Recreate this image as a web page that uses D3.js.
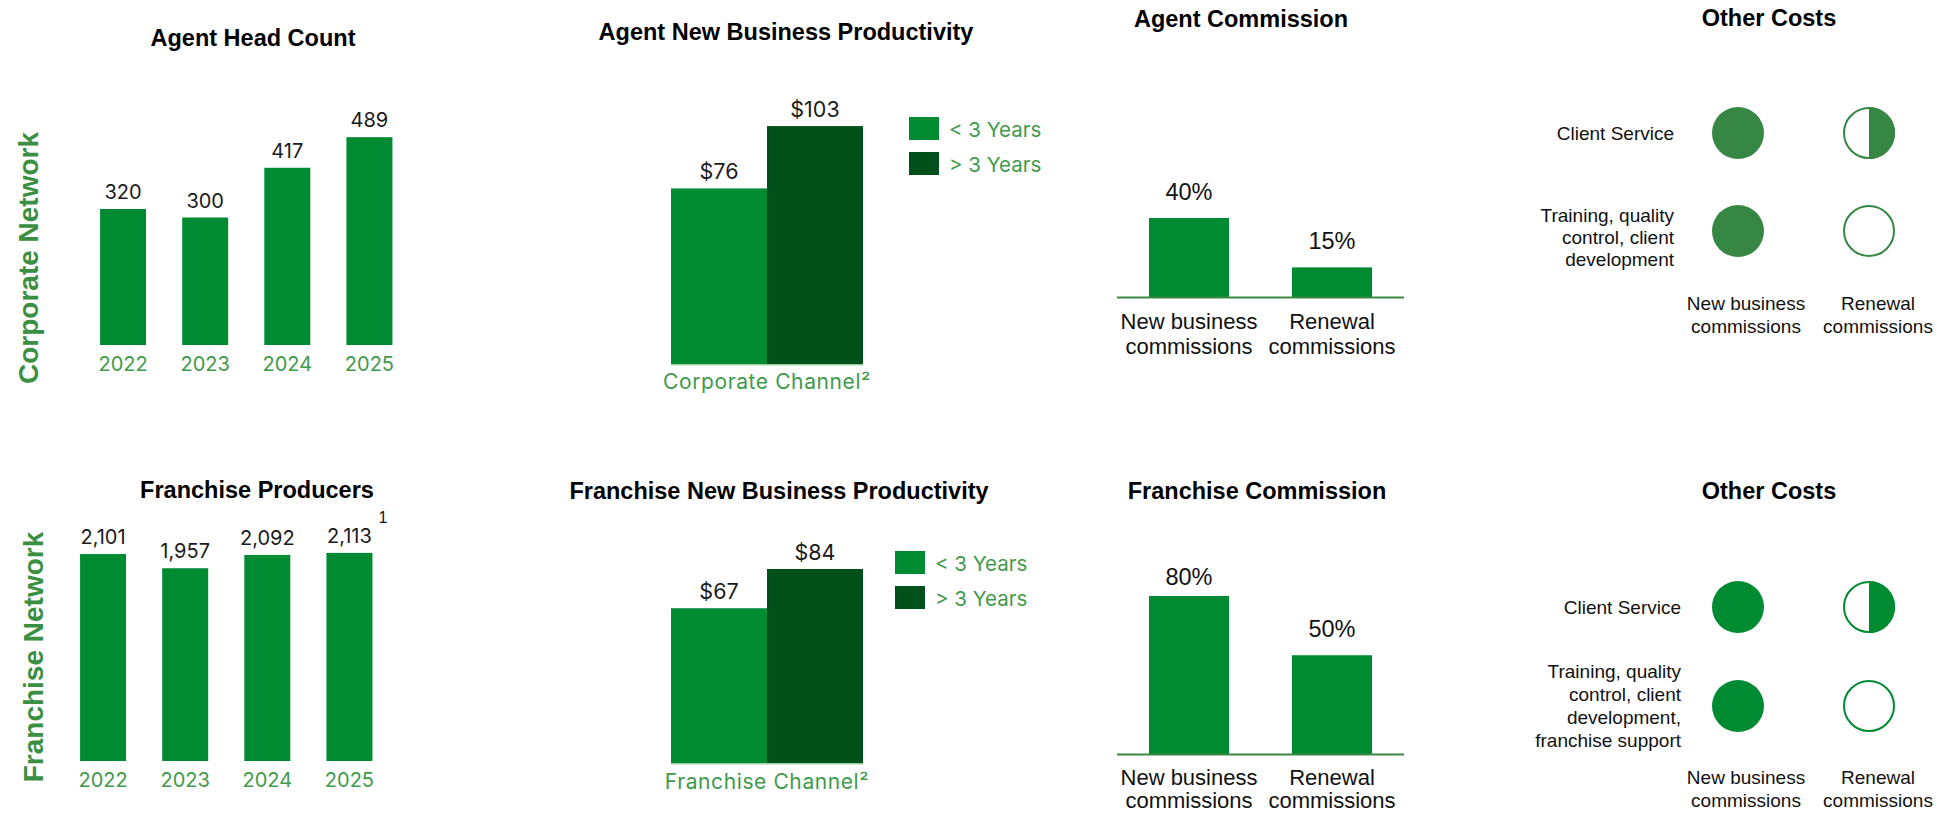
<!DOCTYPE html>
<html>
<head>
<meta charset="utf-8">
<script src="https://cdn.jsdelivr.net/npm/d3@7"></script>
<style>
  html, body { margin: 0; padding: 0; background: #ffffff; }
  svg { display: block; }
</style>
</head>
<body>
<svg id="chart" width="1944" height="814"></svg>
<script>
// ---- data ----
const years = ["2022", "2023", "2024", "2025"];
const agentHeadCount = [320, 300, 417, 489];
const franchiseProducers = [2101, 1957, 2092, 2113];

const tenureGroups = ["< 3 Years", "> 3 Years"];
const corporateProductivity = [76, 103];
const franchiseProductivity = [67, 84];

const commissionTypes = [["New business", "commissions"], ["Renewal", "commissions"]];
const agentCommission = [40, 15];
const franchiseCommission = [80, 50];

const corporateCostItems = [["Client Service"], ["Training, quality", "control, client", "development"]];
const franchiseCostItems = [["Client Service"], ["Training, quality", "control, client", "development,", "franchise support"]];
// share of each cost borne by [new business, renewal] commissions
const corporateCostShares = [[1, 0.5], [1, 0]];
const franchiseCostShares = [[1, 0.5], [1, 0]];

// ---- styling ----
const GREEN = "#008a32";
const DARK_GREEN = "#00501c";
const MUTED_GREEN = "#378744";
const LABEL_GREEN = "#3f9a4c";
const SIDE_GREEN = "#3a8f43";
const SANS = "'Liberation Sans', Arial, sans-serif";
const GEO = "Inter, 'Open Sans', sans-serif";

const svg = d3.select("#chart");

function title(x, y, text) {
  svg.append("text").attr("x", x).attr("y", y)
    .attr("text-anchor", "middle")
    .attr("font-family", SANS).attr("font-weight", "bold")
    .attr("font-size", 23.5).attr("fill", "#000")
    .text(text);
}

function sideLabel(x, y, text) {
  svg.append("text")
    .attr("transform", `translate(${x},${y}) rotate(-90)`)
    .attr("text-anchor", "middle")
    .attr("font-family", SANS).attr("font-weight", "bold")
    .attr("font-size", 28).attr("fill", SIDE_GREEN)
    .text(text);
}

// ---- yearly bar panels ----
function yearBars(opts) {
  const x = d3.scaleBand().domain(years).range(opts.xRange)
    .paddingInner(0.44).paddingOuter(0.22);
  const y = d3.scaleLinear().domain([0, opts.max]).range([opts.base, opts.base - opts.height]);
  const g = svg.append("g");
  const data = years.map((yr, i) => ({ yr, v: opts.values[i] }));

  g.selectAll("rect").data(data).join("rect")
    .attr("x", d => x(d.yr)).attr("width", x.bandwidth())
    .attr("y", d => y(d.v)).attr("height", d => y(0) - y(d.v))
    .attr("fill", GREEN);

  g.selectAll("text.val").data(data).join("text").attr("class", "val")
    .attr("x", d => x(d.yr) + x.bandwidth() / 2)
    .attr("y", d => y(d.v) - 10)
    .attr("text-anchor", "middle")
    .attr("font-family", GEO).attr("font-size", 20).attr("fill", "#1a1a1a")
    .text(d => d3.format(",")(d.v));

  const axis = d3.axisBottom(x).tickSize(0).tickPadding(0);
  const ag = g.append("g").attr("transform", `translate(0,${opts.labelY})`).call(axis);
  ag.select(".domain").remove();
  ag.selectAll("text")
    .attr("dy", 0)
    .attr("font-family", GEO).attr("font-size", 20).attr("fill", LABEL_GREEN);
  return { x, y };
}

// ---- productivity panels ----
function productivity(opts) {
  const x = d3.scaleBand().domain(tenureGroups).range(opts.xRange).padding(0);
  const y = d3.scaleLinear().domain([0, 110]).range([opts.base, opts.base - 254.1]);
  const color = d3.scaleOrdinal().domain(tenureGroups).range([GREEN, DARK_GREEN]);
  const g = svg.append("g");
  const data = tenureGroups.map((t, i) => ({ t, v: opts.values[i] }));

  g.selectAll("rect").data(data).join("rect")
    .attr("x", d => x(d.t)).attr("width", x.bandwidth())
    .attr("y", d => y(d.v)).attr("height", d => y(0) - y(d.v))
    .attr("fill", d => color(d.t));

  g.append("line")
    .attr("x1", opts.xRange[0]).attr("x2", opts.xRange[1])
    .attr("y1", opts.base + 0.75).attr("y2", opts.base + 0.75)
    .attr("stroke", "#9fd0a8").attr("stroke-width", 1.5);

  g.selectAll("text.val").data(data).join("text").attr("class", "val")
    .attr("x", d => x(d.t) + x.bandwidth() / 2)
    .attr("y", d => y(d.v) - 9)
    .attr("text-anchor", "middle")
    .attr("font-family", GEO).attr("font-size", 21.5).attr("fill", "#1a1a1a")
    .text(d => "$" + d.v);

  g.append("text")
    .attr("x", (opts.xRange[0] + opts.xRange[1]) / 2).attr("y", opts.channelY)
    .attr("text-anchor", "middle")
    .attr("font-family", GEO).attr("font-size", 21).attr("letter-spacing", 0.6)
    .attr("fill", LABEL_GREEN)
    .text(opts.channel);

  // legend
  const lg = g.append("g").attr("transform", `translate(${opts.legend[0]},${opts.legend[1]})`);
  const item = lg.selectAll("g").data(tenureGroups).join("g")
    .attr("transform", (d, i) => `translate(0,${i * 35})`);
  item.append("rect").attr("width", 30).attr("height", 23).attr("fill", d => color(d));
  item.append("text").attr("x", 40).attr("y", 20)
    .attr("font-family", GEO).attr("font-size", 20.5).attr("fill", LABEL_GREEN)
    .text(d => d);
}

// ---- commission panels ----
function commission(opts) {
  const keys = commissionTypes.map(d => d.join(" "));
  const x = d3.scaleBand().domain(keys).range([1117.5, 1403.5])
    .paddingInner(0.44).paddingOuter(0.22);
  const y = d3.scaleLinear().domain([0, 100]).range([opts.base, opts.base - 197.5]);
  const g = svg.append("g");
  const data = keys.map((k, i) => ({ k, lines: commissionTypes[i], v: opts.values[i] }));

  g.selectAll("rect").data(data).join("rect")
    .attr("x", d => x(d.k)).attr("width", x.bandwidth())
    .attr("y", d => y(d.v)).attr("height", d => y(0) - y(d.v))
    .attr("fill", GREEN);

  g.append("line")
    .attr("x1", 1117).attr("x2", 1404)
    .attr("y1", opts.base + 0.5).attr("y2", opts.base + 0.5)
    .attr("stroke", "#3a8a45").attr("stroke-width", 2);

  g.selectAll("text.val").data(data).join("text").attr("class", "val")
    .attr("x", d => x(d.k) + x.bandwidth() / 2)
    .attr("y", d => Math.max(y(d.v) - 18, opts.labelTop))
    .attr("text-anchor", "middle")
    .attr("font-family", SANS).attr("font-size", 23.5).attr("fill", "#111")
    .text(d => d.v + "%");

  const cat = g.selectAll("text.cat").data(data).join("text").attr("class", "cat")
    .attr("text-anchor", "middle")
    .attr("font-family", SANS).attr("font-size", 22).attr("fill", "#111");
  cat.selectAll("tspan").data(d => d.lines.map(l => ({ l, cx: x(d.k) + x.bandwidth() / 2 })))
    .join("tspan")
    .attr("x", d => d.cx)
    .attr("y", (d, i) => opts.catY + i * opts.catLine)
    .text(d => d.l);
}

// ---- other costs panels ----
function otherCosts(opts) {
  const cols = commissionTypes.map(d => d.join(" "));
  const x = d3.scalePoint().domain(cols).range([1738, 1869]);
  const y = d3.scalePoint().domain(d3.range(opts.items.length)).range(opts.rows);
  const r = 25;
  const g = svg.append("g");

  opts.items.forEach((lines, i) => {
    const n = lines.length;
    const lh = opts.lineH;
    const t = g.append("text")
      .attr("text-anchor", "end")
      .attr("font-family", SANS).attr("font-size", 19).attr("fill", "#111");
    lines.forEach((l, j) => {
      t.append("tspan").attr("x", opts.labelX)
        .attr("y", y(i) + 6.5 - (n - 1) * lh / 2 + j * lh + opts.shift[i])
        .text(l);
    });

    cols.forEach((c, k) => {
      const share = opts.shares[i][k];
      const cx = x(c), cy = y(i);
      if (share >= 1) {
        g.append("circle").attr("cx", cx).attr("cy", cy).attr("r", r + 1).attr("fill", opts.color);
      } else {
        g.append("circle").attr("cx", cx).attr("cy", cy).attr("r", r)
          .attr("fill", "#fff").attr("stroke", opts.color).attr("stroke-width", 2);
        if (share > 0) {
          const arc = d3.arc().innerRadius(0).outerRadius(r + 1)
            .startAngle(0).endAngle(Math.PI * 2 * share);
          g.append("path").attr("transform", `translate(${cx},${cy})`)
            .attr("d", arc()).attr("fill", opts.color);
        }
      }
    });
  });

  const colText = g.selectAll("text.col").data(cols).join("text").attr("class", "col")
    .attr("text-anchor", "middle")
    .attr("font-family", SANS).attr("font-size", 19).attr("fill", "#111");
  colText.selectAll("tspan").data((d, i) => commissionTypes[i].map(l => ({ l, cx: x(d) + (i === 0 ? 8 : 9) })))
    .join("tspan")
    .attr("x", d => d.cx)
    .attr("y", (d, i) => opts.colY + i * 23)
    .text(d => d.l);
}

// ---- corporate network row ----
sideLabel(38, 258, "Corporate Network");
title(253, 46, "Agent Head Count");
yearBars({ values: agentHeadCount, xRange: [82, 410.5], base: 345, max: 500, height: 212.5, labelY: 371 });

title(786, 40, "Agent New Business Productivity");
productivity({ values: corporateProductivity, xRange: [671, 863], base: 364,
  channel: "Corporate Channel\u00B2", channelY: 389, legend: [909, 117] });

title(1241, 27, "Agent Commission");
commission({ values: agentCommission, base: 297, labelTop: 0, catY: 329, catLine: 24.5 });

title(1769, 26, "Other Costs");
otherCosts({ items: corporateCostItems, shares: corporateCostShares, rows: [133, 231],
  labelX: 1674, lineH: 22, shift: [0, 6], colY: 310, color: MUTED_GREEN });

// ---- franchise network row ----
sideLabel(43, 657, "Franchise Network");
title(257, 498, "Franchise Producers");
yearBars({ values: franchiseProducers, xRange: [62, 390.5], base: 761, max: 2200, height: 216.7, labelY: 787 });
svg.append("text").attr("x", 383).attr("y", 523)
  .attr("text-anchor", "middle")
  .attr("font-family", SANS).attr("font-size", 16).attr("fill", "#111")
  .text("1");

title(779, 499, "Franchise New Business Productivity");
productivity({ values: franchiseProductivity, xRange: [671, 863], base: 763,
  channel: "Franchise Channel\u00B2", channelY: 789, legend: [895, 551] });

title(1257, 499, "Franchise Commission");
commission({ values: franchiseCommission, base: 754, labelTop: 585, catY: 785, catLine: 23 });

title(1769, 499, "Other Costs");
otherCosts({ items: franchiseCostItems, shares: franchiseCostShares, rows: [607, 706],
  labelX: 1681, lineH: 23, shift: [0, 0], colY: 784, color: GREEN });
</script>
</body>
</html>
